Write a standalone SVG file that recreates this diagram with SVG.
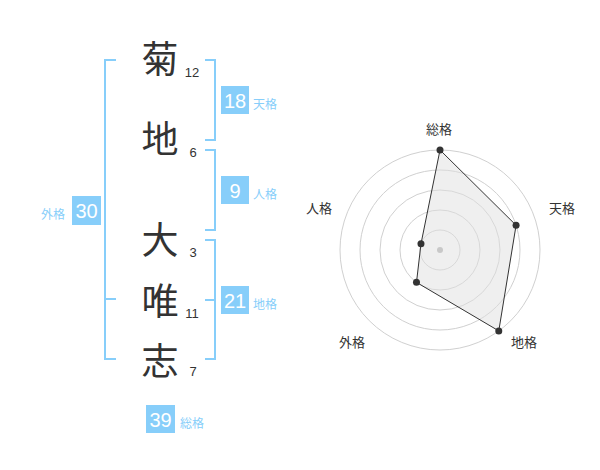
<svg xmlns="http://www.w3.org/2000/svg" width="600" height="470" viewBox="0 0 600 470">
<style>
.br{fill:none;stroke:#87cefa;stroke-width:2}
.box{fill:#87cefa}
.bn{font-family:"Liberation Sans",Arial,sans-serif;font-size:20px;fill:#fff;text-anchor:middle}
.bl{font-family:"Noto Sans CJK JP","Noto Sans CJK SC",sans-serif;font-size:12px;fill:#87cefa}
.ch{font-family:"Noto Sans CJK JP","Noto Sans CJK SC",sans-serif;font-size:37px;fill:#333;text-anchor:middle}
.num{font-family:"Liberation Sans",Arial,sans-serif;font-size:13px;fill:#333;text-anchor:middle}
.rl{font-family:"Noto Sans CJK JP","Noto Sans CJK SC",sans-serif;font-size:13px;fill:#333;text-anchor:middle}
.ring{fill:none;stroke:#d0d0d0;stroke-width:1}
.dot{fill:#333}
</style>
<rect width="600" height="470" fill="#fff"/>
<g id="connectors">
<path class="br" d="M116,60 H105 V359 H116 M105,299 H116"/>
<path class="br" d="M205,60 H215 V140 H205"/>
<path class="br" d="M205,150 H215 V230 H205"/>
<path class="br" d="M205,240 H215 V359 H205 M215,300 H205"/>
</g>
<g id="name">
<g id="c1"><text class="ch" x="160" y="73">菊</text><text class="num" x="192" y="77">12</text></g>
<g id="c2"><text class="ch" x="160" y="153">地</text><text class="num" x="193" y="157">6</text></g>
<g id="c3"><text class="ch" x="160" y="254">大</text><text class="num" x="193" y="257">3</text></g>
<g id="c4"><text class="ch" x="160" y="315">唯</text><text class="num" x="192" y="318">11</text></g>
<g id="c5"><text class="ch" x="160" y="375">志</text><text class="num" x="193" y="376">7</text></g>
</g>
<g id="tenkaku"><rect class="box" x="221" y="86" width="28" height="28"/><text class="bn" x="235" y="107.5">18</text><text class="bl" x="253" y="109">天格</text></g>
<g id="jinkaku"><rect class="box" x="221" y="176" width="28" height="28"/><text class="bn" x="235" y="197.5">9</text><text class="bl" x="253" y="199">人格</text></g>
<g id="chikaku"><rect class="box" x="221" y="286" width="28" height="28"/><text class="bn" x="235" y="307.5">21</text><text class="bl" x="253" y="309">地格</text></g>
<g id="gaikaku"><rect class="box" x="72" y="196" width="29" height="29"/><text class="bn" x="86.5" y="217.5">30</text><text class="bl" x="41" y="219">外格</text></g>
<g id="soukaku"><rect class="box" x="146" y="405" width="29" height="28"/><text class="bn" x="160.5" y="426.5">39</text><text class="bl" x="180" y="428">総格</text></g>
<g id="radar">
<circle class="ring" cx="440" cy="250" r="100"/>
<circle class="ring" cx="440" cy="250" r="80"/>
<circle class="ring" cx="440" cy="250" r="60"/>
<circle class="ring" cx="440" cy="250" r="40"/>
<circle class="ring" cx="440" cy="250" r="20"/>
<polygon points="440,150 516.08,225.28 498.78,330.9 416.49,282.36 420.98,243.82" fill="#e0e0e0" fill-opacity="0.5" stroke="#333" stroke-width="1"/>
<circle cx="440" cy="250" r="3" fill="#c8c8c8"/>
<circle class="dot" cx="440" cy="150" r="3.5"/>
<circle class="dot" cx="516.08" cy="225.28" r="3.5"/>
<circle class="dot" cx="498.78" cy="330.9" r="3.5"/>
<circle class="dot" cx="416.49" cy="282.36" r="3.5"/>
<circle class="dot" cx="420.98" cy="243.82" r="3.5"/>
<text class="rl" x="439" y="134">総格</text>
<text class="rl" x="562" y="213">天格</text>
<text class="rl" x="524" y="347">地格</text>
<text class="rl" x="352" y="347">外格</text>
<text class="rl" x="319" y="213">人格</text>
</g>
</svg>
